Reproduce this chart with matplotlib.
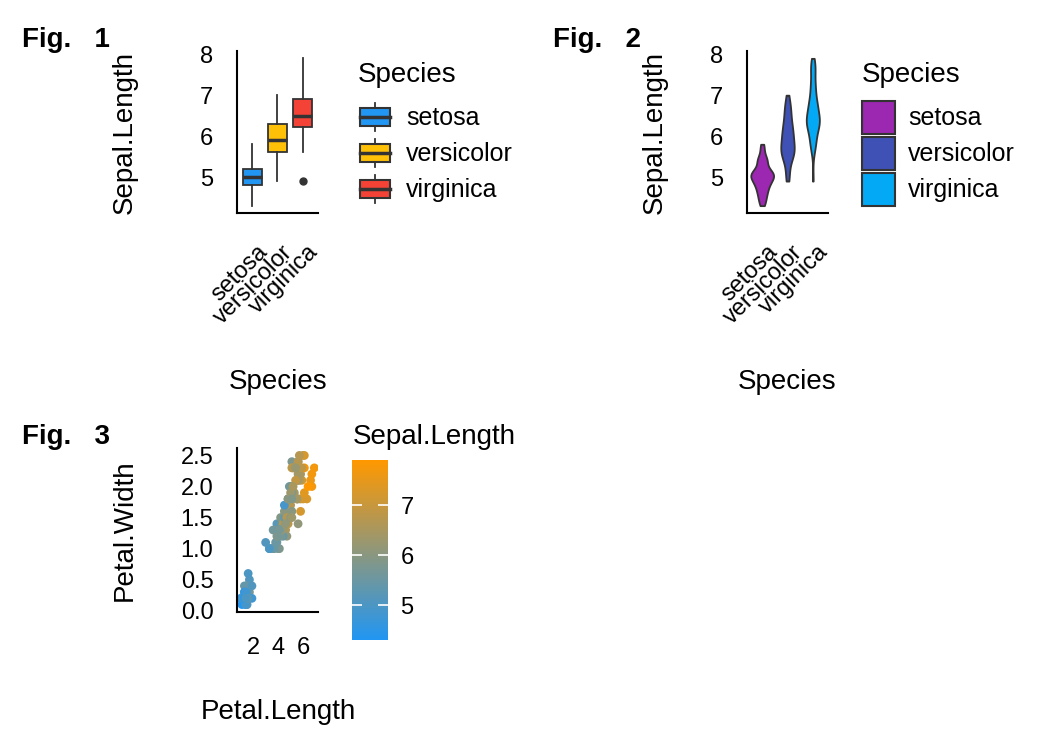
import matplotlib
matplotlib.use("Agg")
import matplotlib.pyplot as plt
import matplotlib.transforms as mtransforms
import numpy as np
from matplotlib.legend_handler import HandlerBase
from matplotlib.patches import Rectangle
from matplotlib.lines import Line2D
from matplotlib.colors import LinearSegmentedColormap, Normalize

plt.rcParams['font.family'] = ['Liberation Sans', 'DejaVu Sans']

# iris data (Sepal.Length, Petal.Length, Petal.Width)
sepal_length = [
    5.1, 4.9, 4.7, 4.6, 5.0, 5.4, 4.6, 5.0, 4.4, 4.9, 5.4, 4.8, 4.8, 4.3, 5.8, 5.7, 5.4, 5.1, 5.7, 5.1,
    5.4, 5.1, 4.6, 5.1, 4.8, 5.0, 5.0, 5.2, 5.2, 4.7, 4.8, 5.4, 5.2, 5.5, 4.9, 5.0, 5.5, 4.9, 4.4, 5.1,
    5.0, 4.5, 4.4, 5.0, 5.1, 4.8, 5.1, 4.6, 5.3, 5.0,
    7.0, 6.4, 6.9, 5.5, 6.5, 5.7, 6.3, 4.9, 6.6, 5.2, 5.0, 5.9, 6.0, 6.1, 5.6, 6.7, 5.6, 5.8, 6.2, 5.6,
    5.9, 6.1, 6.3, 6.1, 6.4, 6.6, 6.8, 6.7, 6.0, 5.7, 5.5, 5.5, 5.8, 6.0, 5.4, 6.0, 6.7, 6.3, 5.6, 5.5,
    5.5, 6.1, 5.8, 5.0, 5.6, 5.7, 5.7, 6.2, 5.1, 5.7,
    6.3, 5.8, 7.1, 6.3, 6.5, 7.6, 4.9, 7.3, 6.7, 7.2, 6.5, 6.4, 6.8, 5.7, 5.8, 6.4, 6.5, 7.7, 7.7, 6.0,
    6.9, 5.6, 7.7, 6.3, 6.7, 7.2, 6.2, 6.1, 6.4, 7.2, 7.4, 7.9, 6.4, 6.3, 6.1, 7.7, 6.3, 6.4, 6.0, 6.9,
    6.7, 6.9, 5.8, 6.8, 6.7, 6.7, 6.3, 6.5, 6.2, 5.9,
]
petal_length = [
    1.4, 1.4, 1.3, 1.5, 1.4, 1.7, 1.4, 1.5, 1.4, 1.5, 1.5, 1.6, 1.4, 1.1, 1.2, 1.5, 1.3, 1.4, 1.7, 1.5,
    1.7, 1.5, 1.0, 1.7, 1.9, 1.6, 1.6, 1.5, 1.4, 1.6, 1.6, 1.5, 1.5, 1.4, 1.5, 1.2, 1.3, 1.4, 1.3, 1.5,
    1.3, 1.3, 1.3, 1.6, 1.9, 1.4, 1.6, 1.4, 1.5, 1.4,
    4.7, 4.5, 4.9, 4.0, 4.6, 4.5, 4.7, 3.3, 4.6, 3.9, 3.5, 4.2, 4.0, 4.7, 3.6, 4.4, 4.5, 4.1, 4.5, 3.9,
    4.8, 4.0, 4.9, 4.7, 4.3, 4.4, 4.8, 5.0, 4.5, 3.5, 3.8, 3.7, 3.9, 5.1, 4.5, 4.5, 4.7, 4.4, 4.1, 4.0,
    4.4, 4.6, 4.0, 3.3, 4.2, 4.2, 4.2, 4.3, 3.0, 4.1,
    6.0, 5.1, 5.9, 5.6, 5.8, 6.6, 4.5, 6.3, 5.8, 6.1, 5.1, 5.3, 5.5, 5.0, 5.1, 5.3, 5.5, 6.7, 6.9, 5.0,
    5.7, 4.9, 6.7, 4.9, 5.7, 6.0, 4.8, 4.9, 5.6, 5.8, 6.1, 6.4, 5.6, 5.1, 5.6, 6.1, 5.6, 5.5, 4.8, 5.4,
    5.6, 5.1, 5.1, 5.9, 5.7, 5.2, 5.0, 5.2, 5.4, 5.1,
]
petal_width = [
    0.2, 0.2, 0.2, 0.2, 0.2, 0.4, 0.3, 0.2, 0.2, 0.1, 0.2, 0.2, 0.1, 0.1, 0.2, 0.4, 0.4, 0.3, 0.3, 0.3,
    0.2, 0.4, 0.2, 0.5, 0.2, 0.2, 0.4, 0.2, 0.2, 0.2, 0.2, 0.4, 0.1, 0.2, 0.2, 0.2, 0.2, 0.1, 0.2, 0.2,
    0.3, 0.3, 0.2, 0.6, 0.4, 0.3, 0.2, 0.2, 0.2, 0.2,
    1.4, 1.5, 1.5, 1.3, 1.5, 1.3, 1.6, 1.0, 1.3, 1.4, 1.0, 1.5, 1.0, 1.4, 1.3, 1.4, 1.5, 1.0, 1.5, 1.1,
    1.8, 1.3, 1.5, 1.2, 1.3, 1.4, 1.4, 1.7, 1.5, 1.0, 1.1, 1.0, 1.2, 1.6, 1.5, 1.6, 1.5, 1.3, 1.3, 1.3,
    1.2, 1.4, 1.2, 1.0, 1.3, 1.2, 1.3, 1.3, 1.1, 1.3,
    2.5, 1.9, 2.1, 1.8, 2.2, 2.1, 1.7, 1.8, 1.8, 2.5, 2.0, 1.9, 2.1, 2.0, 2.4, 2.3, 1.8, 2.2, 2.3, 1.5,
    2.3, 2.0, 2.0, 1.8, 2.1, 1.8, 1.8, 1.8, 2.1, 1.6, 1.9, 2.0, 2.2, 1.5, 1.4, 2.3, 2.4, 1.8, 1.8, 2.1,
    2.4, 2.3, 1.9, 2.3, 2.5, 2.3, 1.9, 2.0, 2.3, 1.8,
]
species_names = ['setosa', 'versicolor', 'virginica']
species = ['setosa'] * 50 + ['versicolor'] * 50 + ['virginica'] * 50

box_colors = ['#2196F3', '#FFC107', '#F44336']
violin_colors = ['#9C27B0', '#3F51B5', '#03A9F4']
grad_low, grad_high = '#2196F3', '#FF9800'
line_col = '#333333'

sepal_length = np.array(sepal_length)
petal_length = np.array(petal_length)
petal_width = np.array(petal_width)
species = np.array(species)
groups = [sepal_length[species == s] for s in species_names]

W, H = 1050, 750
fig = plt.figure(figsize=(10.5, 7.5), dpi=100)

TICK_FS = 17
LABEL_FS = 20
LEG_FS = 18
fs_px = LEG_FS * 100 / 72


def px_axes(left, top, right, bottom):
    return fig.add_axes([left / W, 1 - bottom / H, (right - left) / W, (bottom - top) / H])


def style_axes(ax):
    for s in ['top', 'right']:
        ax.spines[s].set_visible(False)
    for s in ['left', 'bottom']:
        ax.spines[s].set_linewidth(1.5)
    ax.tick_params(length=0, labelsize=TICK_FS)
    ax.tick_params(axis='x', pad=18)
    ax.tick_params(axis='y', pad=17)


def put_labels(ax, xlabel, xpos, ylabel, ypos):
    ax.set_xlabel(xlabel, fontsize=LABEL_FS)
    ax.xaxis.set_label_coords(xpos[0] / W, 1 - xpos[1] / H, transform=fig.transFigure)
    ax.xaxis.label.set_va('center')
    ax.set_ylabel(ylabel, fontsize=LABEL_FS)
    ax.yaxis.set_label_coords(ypos[0] / W, 1 - ypos[1] / H, transform=fig.transFigure)
    ax.yaxis.label.set_va('center')


def rotate_species_ticks(ax):
    ax.set_xticks([1, 2, 3], species_names, rotation=45, ha='right', va='top',
                  rotation_mode='anchor')
    shift = mtransforms.ScaledTranslation(4 / 100, -3 / 100, fig.dpi_scale_trans)
    for lbl in ax.get_xticklabels():
        lbl.set_transform(lbl.get_transform() + shift)


def key_height(px):
    # legend shrinks the handle box by a descent term; undo it so the key is px tall
    return (px - 0.245 * fs_px) / (0.65 * fs_px)


class BoxKey(HandlerBase):
    def create_artists(self, legend, orig_handle, xdescent, ydescent, width, height,
                       fontsize, trans):
        x0, y0 = -xdescent, -ydescent
        cx = x0 + width / 2
        whisker = Line2D([cx, cx], [y0 + 0.05 * height, y0 + 0.95 * height],
                         color=line_col, lw=1.3, transform=trans)
        box = Rectangle((x0, y0 + 0.22 * height), width, 0.56 * height,
                        facecolor=orig_handle.get_facecolor(), edgecolor=line_col,
                        lw=1.5, transform=trans)
        med = Line2D([x0, x0 + width], [y0 + 0.5 * height] * 2, color=line_col,
                     lw=2.5, transform=trans)
        return [whisker, box, med]


# ---- Fig. 1: box plot
ax1 = px_axes(237, 51, 318, 213)
bp = ax1.boxplot(groups, positions=[1, 2, 3], widths=0.75, patch_artist=True, whis=1.5,
                 showcaps=False,
                 medianprops=dict(color=line_col, linewidth=2.5),
                 boxprops=dict(edgecolor=line_col, linewidth=1.3),
                 whiskerprops=dict(color=line_col, linewidth=1.3),
                 flierprops=dict(marker='o', markerfacecolor=line_col,
                                 markeredgecolor=line_col, markersize=5))
for patch, c in zip(bp['boxes'], box_colors):
    patch.set_facecolor(c)
ax1.set_xlim(0.4, 3.6)
ax1.set_ylim(4.12, 8.08)
ax1.set_yticks([5, 6, 7, 8])
style_axes(ax1)
rotate_species_ticks(ax1)
put_labels(ax1, 'Species', (278, 382), 'Sepal.Length', (125, 133))
handles = [Rectangle((0, 0), 1, 1, facecolor=c) for c in box_colors]
ax1.legend(handles, species_names, handler_map={Rectangle: BoxKey()},
           loc='upper left', bbox_to_anchor=(360 / W, 1 - 101 / H),
           bbox_transform=fig.transFigure, frameon=False,
           fontsize=LEG_FS, handlelength=30 / fs_px, handleheight=key_height(32),
           labelspacing=4 / fs_px, handletextpad=16 / fs_px, borderpad=0, borderaxespad=0)
fig.text(358 / W, 1 - 75 / H, 'Species', fontsize=LABEL_FS, va='center')


# ---- Fig. 2: violin plot
def kde(values, grid):
    n = len(values)
    q75, q25 = np.percentile(values, [75, 25])
    bw = 0.9 * min(values.std(ddof=1), (q75 - q25) / 1.34) * n ** -0.2
    z = (grid[:, None] - values[None, :]) / bw
    return np.exp(-0.5 * z ** 2).sum(axis=1) / (n * bw * np.sqrt(2 * np.pi))


ax2 = px_axes(747, 51, 828, 213)
grids = [np.linspace(g.min(), g.max(), 512) for g in groups]
dens = [kde(g, gr) for g, gr in zip(groups, grids)]
dmax = max(d.max() for d in dens)
for i, (gr, d) in enumerate(zip(grids, dens)):
    half = 0.45 * d / dmax
    ax2.fill_betweenx(gr, i + 1 - half, i + 1 + half, facecolor=violin_colors[i],
                      edgecolor=line_col, linewidth=1.3)
ax2.set_xlim(0.4, 3.6)
ax2.set_ylim(4.12, 8.08)
ax2.set_yticks([5, 6, 7, 8])
style_axes(ax2)
rotate_species_ticks(ax2)
put_labels(ax2, 'Species', (787, 382), 'Sepal.Length', (655, 133))
handles = [Rectangle((0, 0), 1, 1, facecolor=c, edgecolor=line_col, linewidth=1.5)
           for c in violin_colors]
ax2.legend(handles, species_names,
           loc='upper left', bbox_to_anchor=(862 / W, 1 - 100.5 / H),
           bbox_transform=fig.transFigure, frameon=False,
           fontsize=LEG_FS, handlelength=33 / fs_px, handleheight=key_height(33),
           labelspacing=3 / fs_px, handletextpad=13 / fs_px, borderpad=0, borderaxespad=0)
fig.text(862 / W, 1 - 75 / H, 'Species', fontsize=LABEL_FS, va='center')

# ---- Fig. 3: scatter coloured by Sepal.Length
cmap = LinearSegmentedColormap.from_list('bl_or', [grad_low, grad_high])
norm = Normalize(vmin=sepal_length.min(), vmax=sepal_length.max())
ax3 = px_axes(237, 448, 318, 612)
sc = ax3.scatter(petal_length, petal_width, c=sepal_length, cmap=cmap, norm=norm,
                 s=40, edgecolors='none')
ax3.set_xlim(0.705, 7.195)
ax3.set_ylim(-0.02, 2.62)
ax3.set_xticks([2, 4, 6])
ax3.set_yticks([0, 0.5, 1.0, 1.5, 2.0, 2.5], ['0.0', '0.5', '1.0', '1.5', '2.0', '2.5'])
style_axes(ax3)
put_labels(ax3, 'Petal.Length', (278, 712), 'Petal.Width', (125, 530))

cax = px_axes(352, 460, 388, 640)
cb = fig.colorbar(sc, cax=cax)
cb.outline.set_visible(False)
cb.set_ticks([5, 6, 7])
cax.tick_params(color='white', direction='in', length=7, width=1.2, left=True, right=True,
                labelsize=TICK_FS, pad=9)
fig.text(353 / W, 1 - 437 / H, 'Sepal.Length', fontsize=LABEL_FS, va='center')

# panel labels
for lab, x, y in [('Fig.   1', 22, 40), ('Fig.   2', 553, 40), ('Fig.   3', 22, 437)]:
    fig.text(x / W, 1 - y / H, lab, fontsize=20, fontweight='bold', va='center')

fig.savefig('out.png', dpi=100)
